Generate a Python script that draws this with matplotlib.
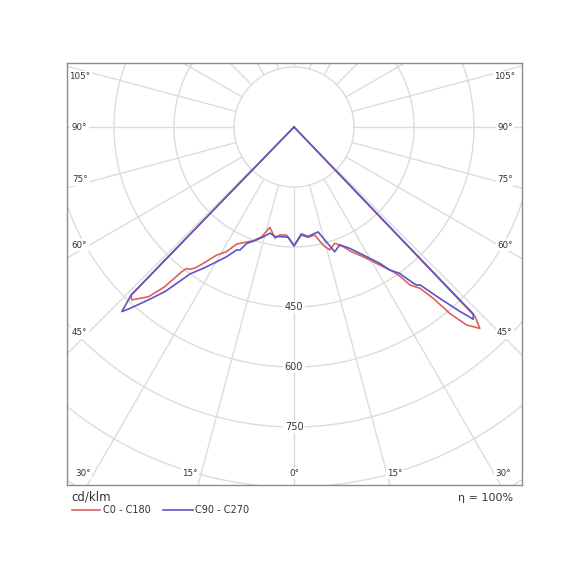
import numpy as np
import matplotlib
matplotlib.use("Agg")
import matplotlib.pyplot as plt
from matplotlib.lines import Line2D

# gamma angle in degrees (negative = left half), intensity in cd/klm
c0_gamma = [-45, -44.1, -43.2, -40.6, -39.0, -37.8, -37.2, -36.2, -35.1, -33.6, -31.1,
            -28.4, -26.1, -23.7, -19.7, -16.4, -13.5, -9.7, -7.4, -3.9, 0,
            3.9, 7.2, 10.9, 13.8, 16.2, 19.3, 22.3, 24.7, 28.0, 30.4, 32.5,
            34.4, 35.4, 36.3, 38.0, 39.1, 39.9, 41.1, 42.7, 43.7, 45]
c0_int = [0, 585, 593, 559, 514, 458, 444, 441, 431, 409, 374,
          354, 326, 316, 302, 286, 258, 282, 272, 271, 297,
          271, 278, 275, 304, 320, 308, 323, 343, 367, 390, 414,
          438, 458, 490, 512, 552, 608, 657, 685, 655, 0]

c90_gamma = [-45, -44.1, -43.0, -42.1, -40.1, -38.1, -36.3, -35.8, -35.3, -32.7, -29.8,
             -27.4, -25.0, -23.7, -22.1, -18.9, -15.6, -12.7, -9.8, -6.4, -3.0, 0,
             3.9, 7.3, 12.9, 15.7, 18.1, 21.2, 24.7, 27.5, 30.0, 32.2, 33.8,
             35.8, 37.4, 37.8, 38.6, 40.4, 42.0, 43.0, 43.8, 45]
c90_int = [0, 585, 631, 611, 565, 523, 474, 462, 450, 420, 388,
           365, 339, 336, 314, 300, 285, 272, 278, 276, 276, 297,
           268, 276, 269, 298, 328, 316, 334, 356, 379, 403, 430,
           451, 492, 500, 505, 563, 621, 657, 648, 0]

rings = [150, 300, 450, 600, 750, 900, 1050, 1200]
ring_labels = [450, 600, 750]
side_angles = [105, 90, 75, 60, 45]
bottom_angles = [30, 15, 0, 15, 30]

RED = '#e0605a'
BLUE = '#5a55c8'
GRID = '#dcdcdc'


def to_xy(gamma, inten):
    g = np.radians(np.asarray(gamma, dtype=float))
    i = np.asarray(inten, dtype=float)
    return i * np.sin(g), -i * np.cos(g)


fig = plt.figure(figsize=(5.87, 5.70), dpi=100)
ax = fig.add_axes([66.7 / 587, 1 - 485 / 570, 455 / 587, 421.7 / 570])
ax.set_xlim(-568.25, 569.25)
ax.set_ylim(-895, 159.25)

# grid: circles and rays every 15 degrees (rays start at the first circle)
t = np.linspace(0, 2 * np.pi, 721)
for r in rings:
    ax.plot(r * np.cos(t), r * np.sin(t), color=GRID, lw=1, zorder=1)
for a in range(0, 360, 15):
    th = np.radians(a)
    ax.plot([150 * np.sin(th), 1300 * np.sin(th)],
            [-150 * np.cos(th), -1300 * np.cos(th)], color=GRID, lw=1, zorder=1)

# curves
x, y = to_xy(c0_gamma, c0_int)
ax.plot(x, y, color=RED, lw=1.2, zorder=3)
x, y = to_xy(c90_gamma, c90_int)
ax.plot(x, y, color=BLUE, lw=1.2, zorder=4)

box = dict(facecolor='white', edgecolor='none', pad=1.0)
for v in ring_labels:
    ax.text(0, -v, str(v), ha='center', va='center', fontsize=7,
            color='#333333', bbox=box, zorder=2)

side_y = [125.75, 0, -132.5, -295, -514]
for a, yy in zip(side_angles, side_y):
    ax.text(-536, yy, f"{a}°", ha='center', va='center', fontsize=6.3,
            color='#333333', bbox=box, zorder=2)
    ax.text(527, yy, f"{a}°", ha='center', va='center', fontsize=6.3,
            color='#333333', bbox=box, zorder=2)

bottom_x = [-527, -260, 0, 252.5, 523]
for a, xx in zip(bottom_angles, bottom_x):
    ax.text(xx, -866, f"{a}°", ha='center', va='center', fontsize=6.3,
            color='#333333', bbox=box, zorder=2)

ax.set_xticks([])
ax.set_yticks([])
for s in ax.spines.values():
    s.set_color('#8c8c8c')
    s.set_linewidth(1)

# legend and info below the frame
W, H = 587, 570
fig.text(71.7 / W, 1 - 497 / H, "cd/klm", ha='left', va='center', fontsize=8.5, color='#333333')
fig.add_artist(Line2D([71.7 / W, 100 / W], [1 - 510 / H] * 2, color=RED, lw=1.2))
fig.text(102.7 / W, 1 - 510 / H, "C0 - C180", ha='left', va='center', fontsize=7, color='#333333')
fig.add_artist(Line2D([163 / W, 193 / W], [1 - 510 / H] * 2, color=BLUE, lw=1.2))
fig.text(195 / W, 1 - 510 / H, "C90 - C270", ha='left', va='center', fontsize=7, color='#333333')
fig.text(513.5 / W, 1 - 498 / H, "η = 100%", ha='right', va='center', fontsize=8, color='#333333')

fig.savefig("out.png", dpi=100)
